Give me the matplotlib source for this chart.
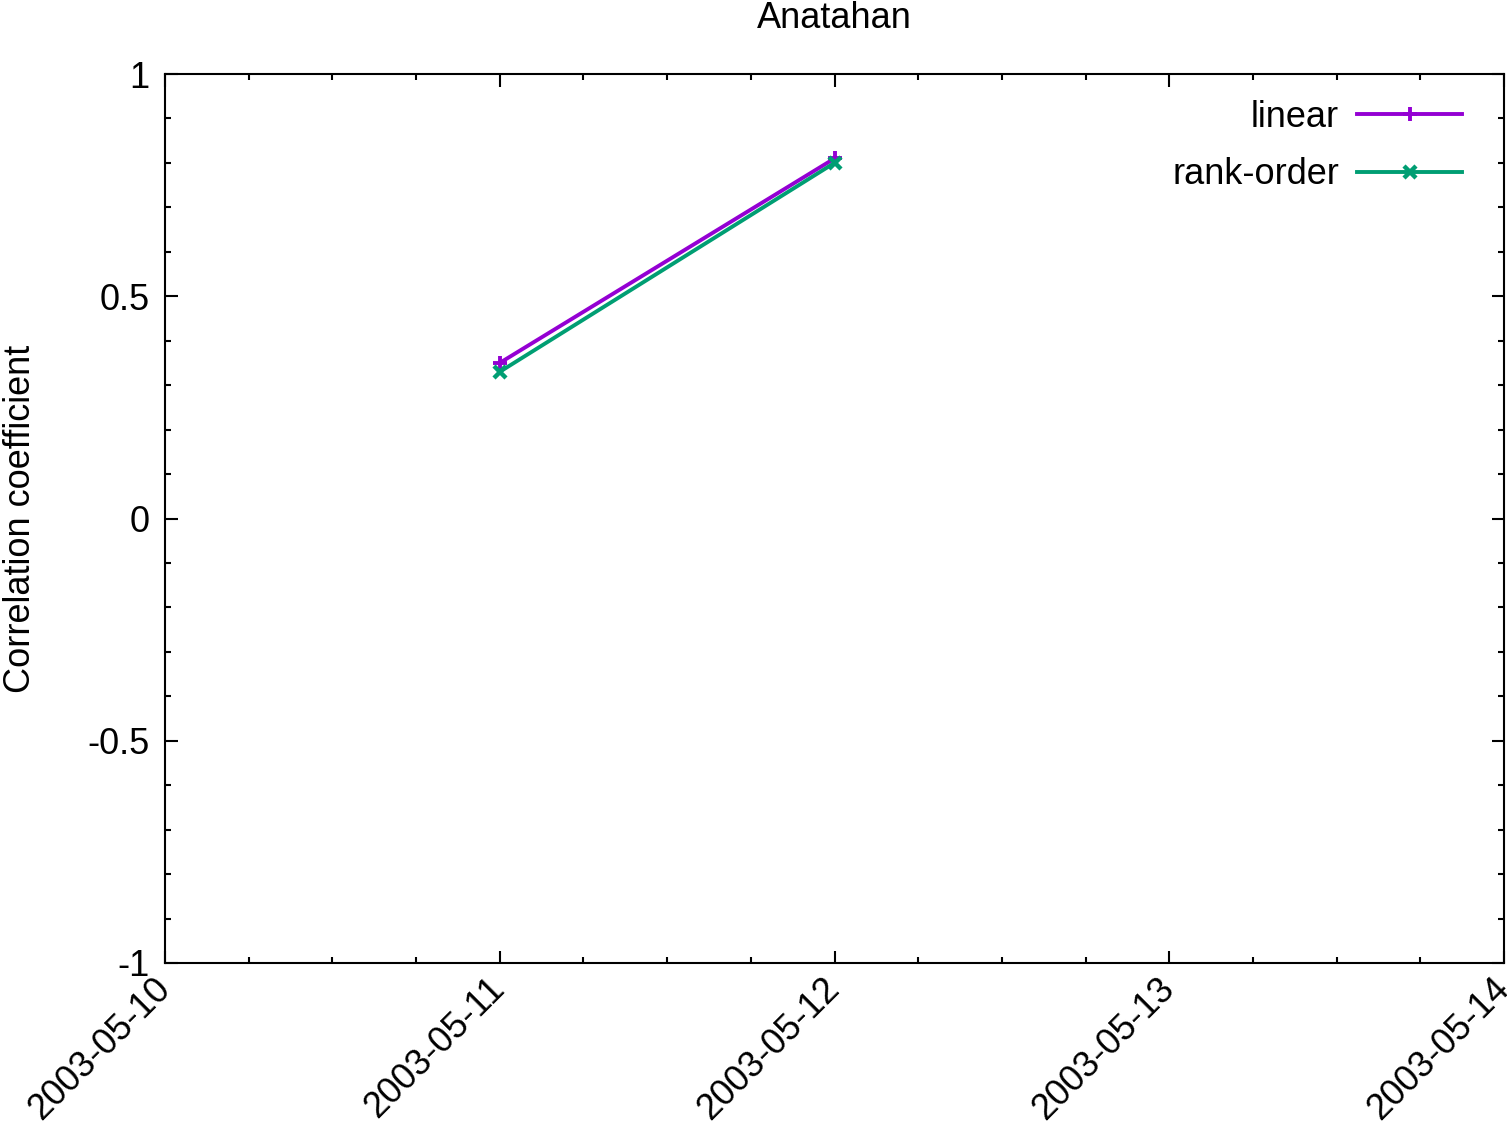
import matplotlib
matplotlib.use("Agg")
import matplotlib.pyplot as plt
import matplotlib.dates as mdates
from matplotlib.ticker import MultipleLocator
import datetime as dt

plt.rcParams['font.family'] = ['Liberation Sans', 'DejaVu Sans']

dates = [dt.datetime(2003, 5, 11), dt.datetime(2003, 5, 12)]
linear = [0.35, 0.81]
rank_order = [0.33, 0.80]
y_ticks = [-1, -0.5, 0, 0.5, 1]
y_labels = ["-1", "-0.5", "0", "0.5", "1"]

FS = 26

fig = plt.figure(figsize=(15.07, 11.26), dpi=100)
ax = fig.add_axes([165 / 1507, 1 - 963 / 1126, (1504 - 165) / 1507, (963 - 74) / 1126])

ax.plot(dates, linear, color="#9400d3", lw=2.8, marker="+", ms=10, mew=2.8, label="linear")
ax.plot(dates, rank_order, color="#009e73", lw=2.8, marker="x", ms=8, mew=3.2, label="rank-order")

ax.set_xlim(dt.datetime(2003, 5, 10), dt.datetime(2003, 5, 14))
ax.set_ylim(-1, 1)
ax.xaxis.set_major_locator(mdates.DayLocator())
ax.xaxis.set_minor_locator(mdates.HourLocator(byhour=[0, 6, 12, 18]))
ax.xaxis.set_major_formatter(mdates.DateFormatter("%Y-%m-%d"))
ax.yaxis.set_minor_locator(MultipleLocator(0.1))
ax.set_yticks(y_ticks)
ax.set_yticklabels(y_labels)

ax.tick_params(which="both", direction="in", top=True, right=True, labelsize=FS, width=1.5)
ax.tick_params(which="major", length=9)
ax.tick_params(which="minor", length=4.5)
ax.tick_params(axis="y", pad=11)
ax.tick_params(axis="x", pad=15)
for lbl in ax.get_xticklabels():
    lbl.set_rotation(45)
    lbl.set_ha("right")
    lbl.set_va("center")
    lbl.set_rotation_mode("anchor")
for s in ax.spines.values():
    s.set_linewidth(1.5)

ax.set_ylabel("Correlation coefficient", fontsize=FS)
ax.yaxis.set_label_coords((38 - 165) / 1339, 0.5)
fig.text(834 / 1507, 1 - 28 / 1126, "Anatahan", fontsize=FS, ha="center", va="baseline")

ax.legend(loc="upper right", bbox_to_anchor=((1462 - 165) / 1339, (963 - 100) / 889),
          frameon=False, markerfirst=False, fontsize=FS, borderpad=0, borderaxespad=0,
          handlelength=2.9, handletextpad=0.5, labelspacing=0.62)

fig.savefig("out.png", dpi=100)
